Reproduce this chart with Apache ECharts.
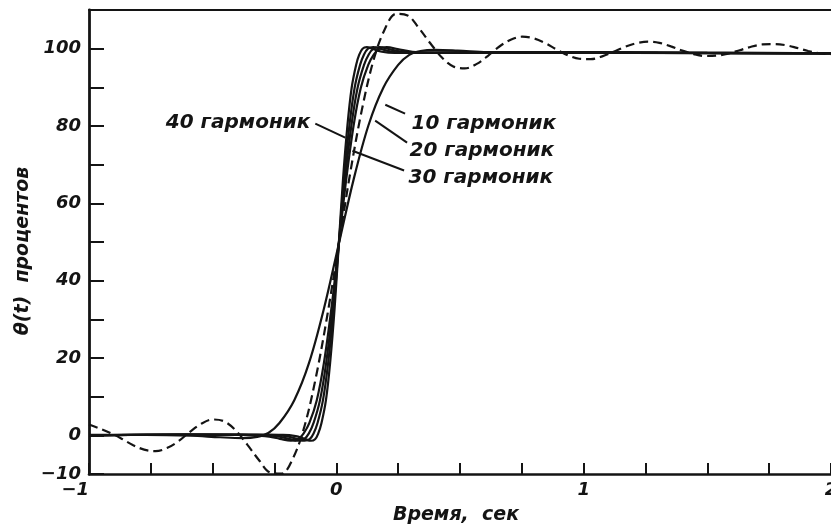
<!DOCTYPE html>
<html>
<head>
<meta charset="utf-8">
<script src="https://cdn.jsdelivr.net/npm/echarts@6/dist/echarts.min.js"></script>
<style>
html,body{margin:0;padding:0;background:#fff;}
#c{width:831px;height:526px;}
</style>
</head>
<body>
<div id="c"></div>
<script>
// ---- data: [time, percent] ----
const dashedCurve = [
[-1.0,2.8],[-0.962,1.9],[-0.916,0.7],[-0.870,-0.8],[-0.823,-2.5],[-0.777,-3.7],[-0.731,-4.1],
[-0.685,-3.3],[-0.638,-1.5],[-0.592,0.9],[-0.546,3.0],[-0.499,4.1],[-0.453,3.6],[-0.407,1.3],
[-0.360,-2.4],[-0.314,-6.3],[-0.268,-9.6],[-0.222,-9.9],[-0.175,-5.9],[-0.129,2.3],[-0.083,14.9],
[-0.036,31.2],[0.010,49.5],[0.056,67.8],[0.103,84.1],[0.149,96.7],[0.195,104.9],[0.242,109.0],
[0.288,108.6],[0.334,105.3],[0.380,101.4],[0.427,97.7],[0.473,95.4],[0.519,94.9],[0.566,96.0],
[0.612,98.1],[0.658,100.5],[0.705,102.3],[0.751,103.1],[0.797,102.7],[0.843,101.5],[0.890,99.8],
[0.936,98.3],[0.982,97.4],[1.029,97.3],[1.075,98.0],[1.121,99.2],[1.168,100.5],[1.214,101.4],
[1.260,101.8],[1.306,101.5],[1.353,100.6],[1.399,99.5],[1.445,98.6],[1.492,98.1],[1.538,98.2],
[1.584,98.7],[1.631,99.6],[1.677,100.5],[1.723,101.1],[1.769,101.2],[1.816,100.9],[1.862,100.2],
[1.908,99.4],[1.955,98.8],[2.0,98.5]
];
const curve10 = [
[-1.0,0.1],[-0.77,0.1],[-0.59,-0.1],[-0.47,-0.5],[-0.38,-0.7],[-0.32,-0.4],[-0.275,0.6],[-0.23,3.2],
[-0.17,9.1],[-0.11,18.8],[-0.05,32.8],[0.01,49.5],[0.07,66.2],[0.13,80.2],[0.19,89.9],[0.25,95.8],
[0.295,98.4],[0.34,99.4],[0.40,99.7],[0.49,99.5],[0.61,99.1],[0.79,98.9],[1.3,99.0],[2.0,98.8]
];
const curve20 = [
[-1.0,0.0],[-0.7,0.2],[-0.377,0.1],[-0.288,-0.2],[-0.228,-0.9],[-0.184,-1.4],[-0.154,-1.0],[-0.132,0.5],
[-0.109,3.2],[-0.079,9.1],[-0.050,18.8],[-0.020,32.8],[0.010,49.5],[0.040,66.2],[0.070,80.2],[0.099,89.9],
[0.129,95.8],[0.152,98.5],[0.174,100.0],[0.204,100.4],[0.248,99.9],[0.308,99.2],[0.397,98.9],[0.9,99.1],
[1.5,98.9],[2.0,98.8]
];
const curve30 = [
[-1.0,0.0],[-0.65,0.2],[-0.320,0.1],[-0.244,-0.2],[-0.193,-0.9],[-0.155,-1.4],[-0.130,-1.0],[-0.111,0.5],
[-0.092,3.2],[-0.066,9.1],[-0.041,18.8],[-0.015,32.8],[0.010,49.5],[0.035,66.2],[0.061,80.2],[0.086,89.9],
[0.112,95.8],[0.131,98.5],[0.150,100.0],[0.175,100.4],[0.213,99.9],[0.264,99.2],[0.340,98.9],[0.8,99.1],
[1.4,98.9],[2.0,98.8]
];
const curve40 = [
[-1.0,0.0],[-0.6,0.2],[-0.268,0.1],[-0.204,-0.2],[-0.161,-0.9],[-0.129,-1.4],[-0.108,-1.0],[-0.092,0.5],
[-0.076,3.2],[-0.054,9.1],[-0.033,18.8],[-0.011,32.8],[0.010,49.5],[0.031,66.2],[0.053,80.2],[0.074,89.9],
[0.096,95.8],[0.112,98.5],[0.128,100.0],[0.149,100.4],[0.181,99.9],[0.224,99.2],[0.288,98.9],[0.7,99.1],
[1.3,98.9],[2.0,98.8]
];
const curve50 = [
[-1.0,0.0],[-0.6,0.2],[-0.4,0.1],[-0.216,0.1],[-0.164,-0.2],[-0.129,-0.9],[-0.103,-1.4],[-0.086,-1.0],
[-0.073,0.5],[-0.060,3.2],[-0.042,9.1],[-0.025,18.8],[-0.007,32.8],[0.010,49.5],[0.027,66.2],[0.045,80.2],
[0.062,89.9],[0.080,95.8],[0.093,98.5],[0.106,100.0],[0.123,100.4],[0.149,99.9],[0.184,99.2],[0.236,98.9],
[0.6,99.1],[1.2,98.9],[2.0,98.8]
];
const labelNames = ['40 гармоник','10 гармоник','20 гармоник','30 гармоник'];
const xLabelValues = [-1, 0, 1, 2];
const yLabelValues = [-10, 0, 20, 40, 60, 80, 100];

const INK = '#141414';
const FONT = 'DejaVu Sans';
const txt = {fontFamily: FONT, fontStyle: 'italic', fontWeight: 'bold', color: INK};

function fmtNum(v){ return v < 0 ? '\u2212' + Math.abs(v) : String(v); }

function solid(name, data){
  return {type:'line', name, data, smooth:0.35, showSymbol:false, symbol:'none',
    lineStyle:{color:INK, width:2.2}, silent:true, z:3};
}

const chart = echarts.init(document.getElementById('c'), null, {renderer:'canvas'});
chart.setOption({
  backgroundColor:'#ffffff',
  animation:false,
  grid:{left:89, right:0, top:10, bottom:52, containLabel:false, outerBoundsMode:'none'},
  xAxis:[{
    type:'value', min:-1, max:2, interval:0.25, position:'bottom',
    axisLine:{show:true, onZero:false, lineStyle:{color:INK, width:2.6}},
    axisTick:{show:true, inside:true, length:11, lineStyle:{color:INK, width:2}},
    axisLabel:Object.assign({fontSize:18, margin:7, showMinLabel:true, showMaxLabel:true,
      alignMinLabel:'right',
      formatter:v => xLabelValues.indexOf(Math.round(v*1000)/1000) >= 0 ? fmtNum(Math.round(v)) : ''}, txt),
    splitLine:{show:false}
  },{
    type:'value', min:-1, max:2, position:'top',
    axisLine:{show:true, onZero:false, lineStyle:{color:INK, width:2.2}},
    axisTick:{show:false}, axisLabel:{show:false}, splitLine:{show:false}
  }],
  yAxis:[{
    type:'value', min:-10, max:110, interval:10,
    axisLine:{show:true, onZero:false, lineStyle:{color:INK, width:2.8}},
    axisTick:{show:true, inside:true, length:15, lineStyle:{color:INK, width:2}},
    axisLabel:Object.assign({fontSize:18, margin:8,
      formatter:v => yLabelValues.indexOf(Math.round(v)) >= 0 ? fmtNum(Math.round(v)) : ''}, txt),
    splitLine:{show:false}
  }],
  graphic:[
    {type:'text', x:23, y:251, rotation:Math.PI/2,
     style:{text:'\u03b8(t)  процентов', fill:INK, fontSize:19, fontStyle:'italic', fontWeight:'bold',
            fontFamily:FONT, align:'center', verticalAlign:'middle'}},
    {type:'text', x:456, y:515,
     style:{text:'Время,  сек', fill:INK, fontSize:19, fontStyle:'italic', fontWeight:'bold',
            fontFamily:FONT, align:'center', verticalAlign:'middle'}}
  ],
  series:[
    {type:'line', name:'dashed', data:dashedCurve, smooth:0.35, showSymbol:false, symbol:'none',
     lineStyle:{color:INK, width:2.2, type:[9,5]}, silent:true, z:2},
    solid('10 гармоник', curve10),
    solid('20 гармоник', curve20),
    solid('30 гармоник', curve30),
    solid('40 гармоник', curve40),
    solid('50 гармоник', curve50),
    {type:'scatter', name:'labels', symbolSize:0, silent:true, z:5,
     itemStyle:{opacity:1},
     label:Object.assign({show:true, formatter:'{b}', fontSize:20, distance:2, opacity:1}, txt),
     data:[
       {name:labelNames[0], value:[-0.097, 80.9], label:{position:'left'}},
       {name:labelNames[1], value:[0.296, 80.6], label:{position:'right'}},
       {name:labelNames[2], value:[0.288, 73.6], label:{position:'right'}},
       {name:labelNames[3], value:[0.284, 66.7], label:{position:'right'}}
     ],
     markLine:{silent:true, symbol:['none','none'], label:{show:false},
       lineStyle:{color:INK, width:2, type:'solid', opacity:1},
       data:[
         [{coord:[-0.085, 80.6]}, {coord:[0.036, 77.0]}],
         [{coord:[0.278, 83.2]}, {coord:[0.198, 85.5]}],
         [{coord:[0.286, 75.7]}, {coord:[0.157, 81.4]}],
         [{coord:[0.274, 68.5]}, {coord:[0.065, 73.6]}]
       ]}
    }
  ]
});
</script>
</body>
</html>
